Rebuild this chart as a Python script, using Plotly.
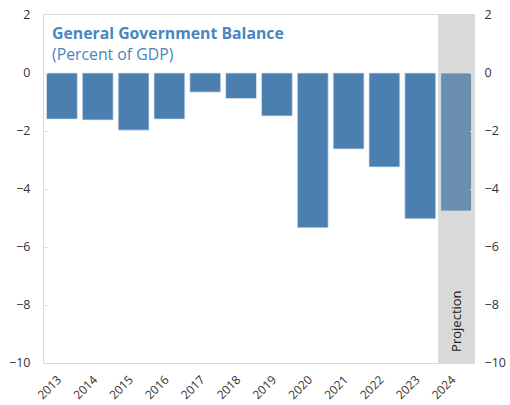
import plotly.graph_objects as go

years = ["2013", "2014", "2015", "2016", "2017", "2018", "2019", "2020", "2021", "2022", "2023", "2024"]
balance = [-1.59, -1.62, -1.97, -1.59, -0.66, -0.88, -1.48, -5.34, -2.62, -3.24, -5.03, -4.76]
projection_label = "Projection"

colors = ["#4a7fb0"] * (len(years) - 1) + ["#6b8fae"]

fig = go.Figure()
fig.add_trace(go.Bar(x=years, y=balance, marker=dict(color=colors, line=dict(color="#dbe6f0", width=0.7)),
                     width=0.86, showlegend=False, hoverinfo="x+y"))
fig.add_trace(go.Scatter(x=years, y=balance, yaxis="y2", mode="markers",
                         marker=dict(opacity=0), showlegend=False, hoverinfo="skip"))

fig.add_vrect(x0=10.5, x1=11.5, fillcolor="#d9d9d9", line_width=0, layer="below")
fig.add_annotation(x=11, xref="x", y=-9.7, yref="y", text=projection_label, textangle=-90,
                   showarrow=False, yanchor="bottom", xanchor="center",
                   font=dict(size=13, color="#222", family="Open Sans, sans-serif"))

fig.add_annotation(xref="paper", yref="paper", x=0.015, y=0.985, xanchor="left", yanchor="top",
                   align="left", showarrow=False,
                   text="<b>General Government Balance</b><br>(Percent of GDP)",
                   font=dict(size=15.8, color="#4a86be", family="Open Sans, sans-serif"))

tick_font = dict(size=12.5, color="#333", family="Open Sans, sans-serif")
fig.update_layout(
    width=510, height=405,
    margin=dict(l=44, r=36, t=15, b=42),
    plot_bgcolor="white", paper_bgcolor="white",
    bargap=0.14,
    font=dict(family="Open Sans, sans-serif"),
    xaxis=dict(type="category", tickangle=-45, tickfont=dict(size=12, color="#333", family="Open Sans, sans-serif"),
               showline=True, automargin=False,
               linecolor="#d9d9d9", mirror=True, ticks="", range=[-0.5, 11.5],
               ticklabelstandoff=4, ticklabelshift=-4),
    yaxis=dict(range=[-10, 2], dtick=2, tickfont=tick_font, showgrid=False, zeroline=False, automargin=False,
               showline=True, linecolor="#d9d9d9", ticks="inside", ticklen=4, tickcolor="#e0e0e0",
               ticklabeloverflow="allow", ticklabelstandoff=10),
    yaxis2=dict(range=[-10, 2], dtick=2, tickfont=tick_font, overlaying="y", side="right", automargin=False,
                showgrid=False, zeroline=False, showline=True, linecolor="#d9d9d9",
                ticks="inside", ticklen=4, tickcolor="#e0e0e0",
                ticklabeloverflow="allow", ticklabelstandoff=7),
)
fig.write_html("out.html", config={"displayModeBar": False},
               post_script="document.body.style.margin='0';document.body.style.overflow='hidden';")
